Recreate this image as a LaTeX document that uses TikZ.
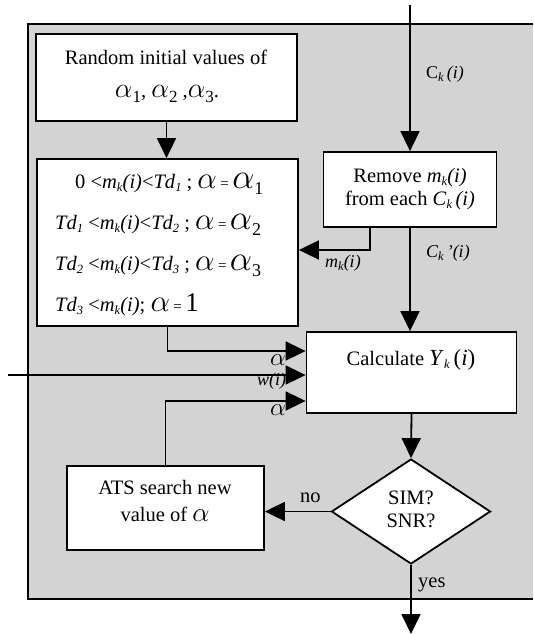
\documentclass[tikz,border=0pt]{standalone}
\usepackage{graphicx}
\usepackage{fontspec}
\setmainfont{Liberation Serif}
\usetikzlibrary{arrows.meta,shapes.geometric}
\definecolor{panel}{RGB}{211,211,211}
\newcommand{\mysub}[1]{{\fontsize{12.5}{14}\selectfont\raisebox{-3.5pt}{#1}}}
\newcommand{\al}{\ensuremath{\alpha}}
\newcommand{\Asc}[1]{{\fontsize{14.4}{16}\selectfont\scalebox{#1}{\al}}}
\newcommand{\BA}{\Asc{2.15}}
\newcommand{\BAs}[1]{\Asc{1.95}{\fontsize{17}{18}\selectfont\raisebox{-5pt}{#1}}}
\newcommand{\BBs}[1]{\Asc{2.45}{\fontsize{18}{18}\selectfont\raisebox{-6pt}{#1}}}
\newcommand{\eq}{\,{\fontsize{15}{16}\selectfont=}\,}
\newcommand{\mki}{\textit{m}\mysub{\textit{k}}\textit{(i)}}
\newcommand{\Td}[1]{\textit{Td}\mysub{\textit{#1}}}
\tikzset{
  box/.style={draw, line width=1.8pt, fill=white, inner sep=0pt},
  conn/.style={line width=1.8pt, -{Triangle[length=20pt,width=19pt]}},
  edge/.style={line width=1.8pt},
  txt/.style={inner sep=0pt, font=\fontsize{20.5}{24}\selectfont},
  cnd/.style={inner sep=0pt, font=\fontsize{20.5}{22}\selectfont},
  lbl/.style={inner sep=0pt, font=\fontsize{18}{20}\selectfont\itshape},
}
\begin{document}
\begin{tikzpicture}[x=1pt,y=-1pt]
\useasboundingbox (0,0) rectangle (533,634);
\fill[panel] (28,24) rectangle (533,599);
\draw[edge] (533,24) -- (28,24) -- (28,599) -- (533,599);

% boxes
\node[box, minimum width=261pt, minimum height=87pt] (rand) at (166.5,77.5) {};
\node[box, minimum width=261pt, minimum height=167pt] (cond) at (167.5,242.5) {};
\node[box, minimum width=173pt, minimum height=75pt] (rem) at (410,189.5) {};
\node[box, minimum width=210pt, minimum height=81pt] (calc) at (411.5,372.5) {};
\node[box, minimum width=197pt, minimum height=84pt] (ats) at (165.5,508) {};
\node[box, diamond, minimum width=159pt, minimum height=105pt] (dec) at (411,511.5) {};

% texts in boxes
\node[txt, anchor=base] (rand1) at (166,65) {Random initial values of};
\node[txt, anchor=base] (rand2) at (167,97) {\BAs{1}, \BAs{2} ,\BAs{3}.};

\node[cnd, anchor=base west] (c1) at (75,188) {0 <\mki<\Td{1} ; \BA\eq\BBs{1}};
\node[cnd, anchor=base west] (c2) at (55,229) {\Td{1} <\mki<\Td{2} ; \BA\eq\BBs{2}};
\node[cnd, anchor=base west] (c3) at (55,270) {\Td{2} <\mki<\Td{3} ; \BA\eq\BBs{3}};
\node[cnd, anchor=base west] (c4) at (55,311) {\Td{3} <\mki; \BA\eq{\fontsize{27}{30}\selectfont 1}};

\node[txt, anchor=base] (rem1) at (410,182) {Remove \mki};
\node[txt, anchor=base] (rem2) at (410,205) {from each \textit{C}\mysub{\textit{k}}\,\textit{(i)}};

\node[txt, anchor=base] (calc1) at (411,365) {Calculate {\fontsize{23}{26}\selectfont\textit{Y}\mysub{\textit{k}}\,(\textit{i})}};

\node[txt, anchor=base] (ats1) at (165,494) {ATS search new};
\node[txt, anchor=base] (ats2) at (165,521) {value of \Asc{1.9}};

\node[txt, anchor=base] (dec1) at (411,504) {SIM?};
\node[txt, anchor=base] (dec2) at (411,527) {SNR?};

% connectors
\coordinate (topin) at (410,5);
\coordinate (win) at (8,375);
\coordinate (out) at (411,634);
\draw[conn] (topin) -- (rem.north);
\draw[conn] (rand.south) -- (rand.south |- cond.north);
\draw[conn] (rem.south) -- (rem.south |- calc.north);
\draw[conn] ([xshift=47pt]rem.south west) |- ([yshift=-7.5pt]cond.east);
\draw[conn] (cond.south) |- ([yshift=21.5pt]calc.west);
\draw[conn] (win) -- (win -| calc.west);
\draw[conn] (ats.north) |- ([yshift=-28.5pt]calc.west);
\draw[conn] (calc.south) -- (dec.north);
\draw[conn] (dec.west) -- (dec.west -| ats.east);
\draw[conn] (dec.south) -- (out);

% labels
\node[lbl, anchor=base west] (lck) at (426,78) {\upshape C\mysub{\textit{k}}\,\textit{(i)}};
\node[lbl, anchor=base west] (lckp) at (426,257) {C\mysub{k}\,'(i)};
\node[lbl, anchor=base west] (lmk) at (325,267) {m\mysub{k}(i)};
\node[inner sep=0pt, anchor=base west] (la1) at (270,365) {\Asc{1.75}};
\node[lbl, anchor=base west] (lw) at (257,385) {w(i)};
\node[inner sep=0pt, anchor=base west] (la2) at (270,415) {\Asc{1.75}};
\node[txt, anchor=base west] (lno) at (300,502) {no};
\node[txt, anchor=base west] (lyes) at (418,587) {yes};
\end{tikzpicture}
\end{document}
